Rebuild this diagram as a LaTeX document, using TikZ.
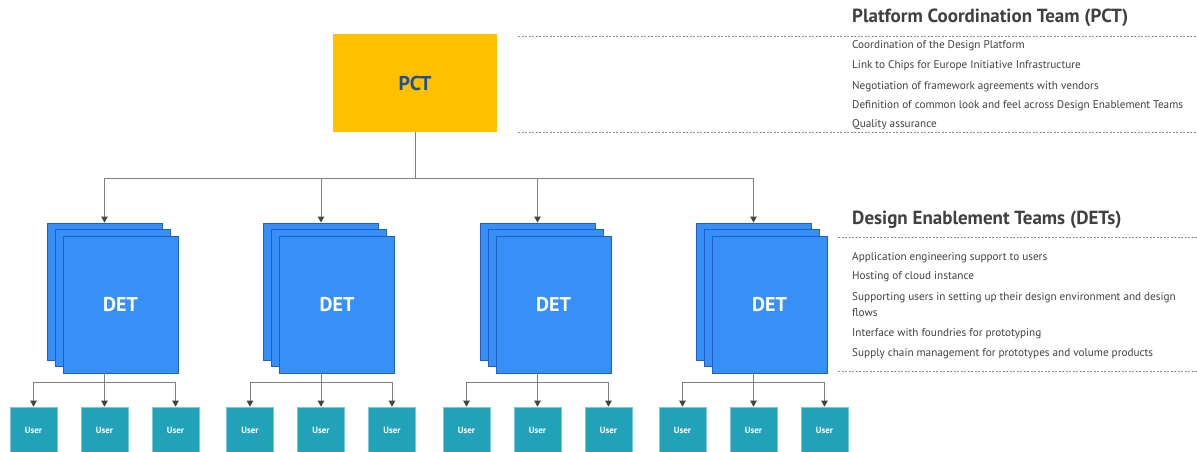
\documentclass[tikz,border=0pt]{standalone}
\usepackage{fontspec}
\setmainfont{PT Sans}
\usetikzlibrary{arrows.meta}
\definecolor{pctY}{HTML}{FFC000}
\definecolor{pctT}{HTML}{1F4E9B}
\definecolor{detB}{HTML}{3690F8}
\definecolor{detD}{HTML}{1F5FC4}
\definecolor{usr}{HTML}{22A2B9}
\definecolor{usrD}{HTML}{7CCAD6}
\definecolor{conn}{HTML}{808080}
\definecolor{arrc}{HTML}{454545}
\definecolor{txt}{HTML}{404040}
\definecolor{sepc}{HTML}{8C8C8C}
\begin{document}
\begin{tikzpicture}[x=1pt,y=-1pt,
 detbox/.style={draw=detD, fill=detB, line width=0.9pt, minimum width=115pt, minimum height=137pt, inner sep=0pt},
 userbox/.style={draw=usrD, fill=usr, line width=0.6pt, minimum width=47pt, minimum height=46pt, inner sep=0pt, text=white, font=\bfseries\fontsize{9}{10}\selectfont},
 arr/.style={draw=conn, line width=1pt, -{Triangle[width=6.5pt,length=6pt,color=arrc]}},
 ln/.style={draw=conn, line width=1pt},
 ttl/.style={anchor=base west, text=txt, font=\bfseries\fontsize{19}{22}\selectfont, inner sep=0pt},
 item/.style={anchor=base west, text=txt, font=\fontsize{11.2}{13}\selectfont, inner sep=0pt},
 sepline/.style={draw=sepc, line width=0.7pt, dash pattern=on 2pt off 1.5pt},
]
\useasboundingbox (0,0) rectangle (1197,452);
\node[fill=pctY, minimum width=164pt, minimum height=98pt, inner sep=0pt, text=pctT, font=\bfseries\fontsize{20}{24}\selectfont] (pct) at (415,83) {PCT};
\coordinate (bus) at (415,178);
\draw[ln] (pct.south) -- (bus);
\foreach \i/\cx in {1/104.5, 2/321, 3/537.5, 4/753.5}{
  \node[detbox] (b\i) at (\cx,291.5) {};
  \node[detbox] (m\i) at (\cx+8,298) {};
  \node[detbox, text=white, font=\bfseries\fontsize{20}{24}\selectfont] (f\i) at (\cx+16,304.5) {DET};
  \node[userbox] (u\i-1) at (\cx-71,430) {User};
  \node[userbox] (u\i-2) at (\cx,430) {User};
  \node[userbox] (u\i-3) at (\cx+71,430) {User};
  \draw[arr] (bus) -| (b\i.north);
  \coordinate (s\i) at (\cx,382);
  \draw[ln] (b\i.center |- f\i.south) -- (s\i);
  \draw[arr] (s\i) -| (u\i-1.north);
  \draw[arr] (s\i) -- (u\i-2.north);
  \draw[arr] (s\i) -| (u\i-3.north);
}
% PCT description
\node[ttl] (t1) at (852,23) {Platform Coordination Team (PCT)};
\coordinate (d1a) at (518,36); \coordinate (d1b) at (1197,36);
\coordinate (d2a) at (518,132); \coordinate (d2b) at (1197,132);
\draw[sepline] (d1a) -- (d1b);
\draw[sepline] (d2a) -- (d2b);
\node[item] (p1) at (852,49) {Coordination of the Design Platform};
\node[item] (p2) at (852,69) {Link to Chips for Europe Initiative Infrastructure};
\node[item] (p3) at (852,89) {Negotiation of framework agreements with vendors};
\node[item] (p4) at (852,108) {Definition of common look and feel across Design Enablement Teams};
\node[item] (p5) at (852,128) {Quality assurance};
% DET description
\node[ttl] (t2) at (852,224) {Design Enablement Teams (DETs)};
\coordinate (d3a) at (838,237); \coordinate (d3b) at (1197,237);
\coordinate (d4a) at (838,371); \coordinate (d4b) at (1197,371);
\draw[sepline] (d3a) -- (d3b);
\draw[sepline] (d4a) -- (d4b);
\node[item] (q1) at (852,260) {Application engineering support to users};
\node[item] (q2) at (852,279) {Hosting of cloud instance};
\node[item] (q3) at (852,300) {Supporting users in setting up their design environment and design};
\node[item] (q3b) at (852,316) {flows};
\node[item] (q4) at (852,336) {Interface with foundries for prototyping};
\node[item] (q5) at (852,356) {Supply chain management for prototypes and volume products};
\end{tikzpicture}
\end{document}
